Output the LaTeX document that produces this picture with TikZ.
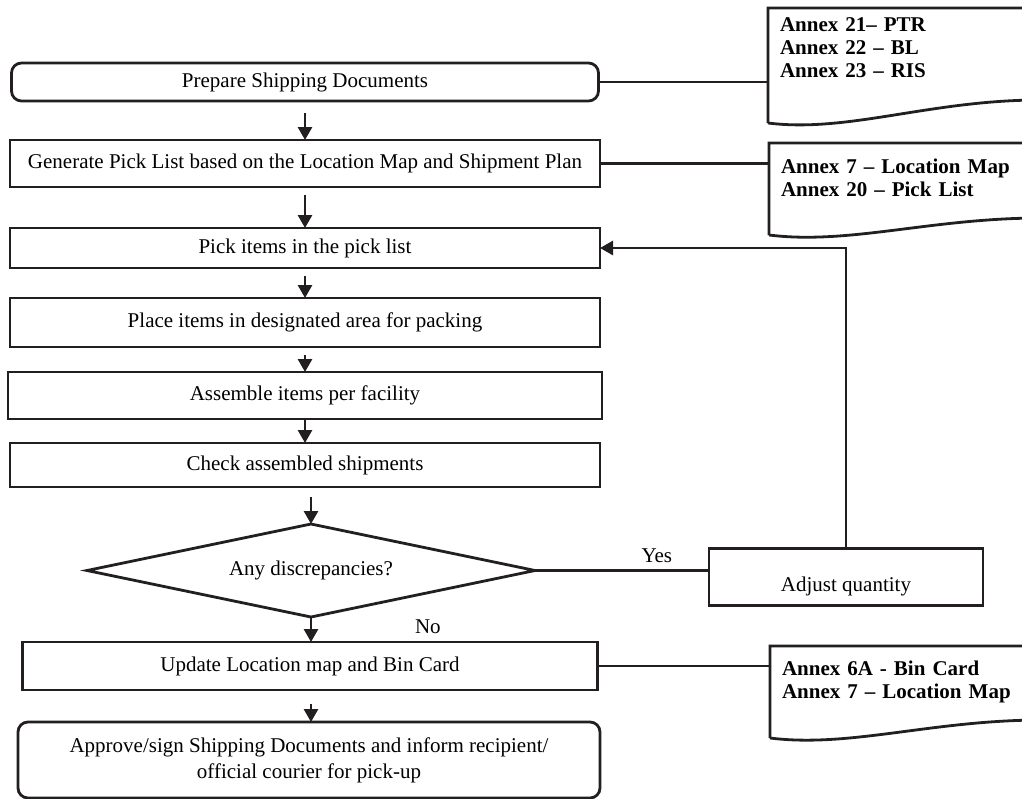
\documentclass[tikz,border=0pt]{standalone}
\usepackage{fontspec}
\setmainfont{Liberation Serif}
\usetikzlibrary{positioning,arrows.meta,shapes.geometric}
\definecolor{inkline}{HTML}{231F20}

% outline of an annex sheet: node name, drop of the right end, drop of the left corner
\newcommand{\sheetoutline}[3]{%
  \draw[sheetline] ([yshift=-#3]#1.south west) -- (#1.north west) -- (#1.north east) -- ([yshift=-#2]#1.south east)
    .. controls +(-110,0) and +(80,10) .. ([yshift=-#3]#1.south west);
}

\begin{document}
\begin{tikzpicture}[x=0.5pt, y=-0.5pt,
  every node/.style={font=\fontsize{10.5}{13}\selectfont, text=black},
  procbox/.style={
    draw=inkline, line width=1.4pt,
    minimum width=295pt,
    align=center, inner sep=3pt, outer sep=0pt
  },
  termbox/.style={procbox, rounded corners=5pt},
  decbox/.style={
    diamond, aspect=4.7,
    draw=inkline, line width=1.4pt,
    inner sep=0pt, outer sep=0pt,
    minimum width=224pt, minimum height=46.5pt
  },
  sheetbox/.style={
    font=\fontsize{10.5}{11.5}\selectfont\bfseries,
    anchor=north west,
    text width=124pt, inner xsep=6pt, inner ysep=2pt, outer sep=0pt,
    align=left
  },
  sheetline/.style={draw=inkline, line width=1.4pt},
  link/.style={draw=inkline, line width=1.4pt},
  flowarrow/.style={
    -{Triangle[length=6.5pt,width=7pt]},
    draw=inkline, line width=1.4pt,
    shorten <=4pt
  }
]
  \useasboundingbox (0,0) rectangle (1022,798);

  % Main column
  \node[termbox, minimum width=293.5pt, minimum height=19pt] (prep) at (305,82) {Prepare Shipping Documents};
  \node[procbox, minimum height=23.5pt, below=19.5pt of prep] (gen) {Generate Pick List based on the Location Map and Shipment Plan};
  \node[procbox, minimum height=20pt, below=20.5pt of gen] (pick) {Pick items in the pick list};
  \node[procbox, minimum height=24.5pt, below=15pt of pick] (place) {Place items in designated area for packing};
  \node[procbox, minimum width=297pt, minimum height=23.5pt, below=12.5pt of place] (asm) {Assemble items per facility};
  \node[procbox, minimum height=22pt, below=12pt of asm] (chk) {Check assembled shipments};
  \node[decbox, below=18.5pt of chk, xshift=3pt] (dec) {Any discrepancies?};
  \node[procbox, minimum width=287.5pt, minimum height=24pt, below=12.5pt of dec, xshift=-0.5pt] (upd) {Update Location map and Bin Card};
  \node[termbox, minimum width=291pt, minimum height=38pt, below=16pt of upd, xshift=-0.5pt] (appr) {Approve/sign Shipping Documents and inform recipient/\\official courier for pick-up};

  % Correction step
  \node[procbox, minimum width=137pt, minimum height=28.5pt, text height=17pt] (adj) at (846,577) {Adjust quantity};

  % Annex sheets
  \node[sheetbox, minimum height=40pt] (annexa) at (768,8) {Annex 21– PTR\\Annex 22 – BL\\Annex 23 – RIS};
  \node[sheetbox, minimum height=35pt] (annexb) at (769,143) {Annex 7 – Location Map\\Annex 20 – Pick List};
  \node[sheetbox, minimum height=36pt] (annexc) at (770,646) {Annex 6A - Bin Card\\Annex 7 – Location Map};
  \sheetoutline{annexa}{6pt}{17.5pt}
  \sheetoutline{annexb}{2.5pt}{11pt}
  \sheetoutline{annexc}{1pt}{10pt}

  % Flow
  \draw[flowarrow, shorten <=6pt] (prep) -- (gen);
  \draw[flowarrow] (gen) -- (pick);
  \draw[flowarrow] (pick) -- (place);
  \draw[flowarrow] (place) -- (asm);
  \draw[flowarrow, shorten <=0pt] (asm) -- (chk);
  \draw[flowarrow, shorten <=5pt] (chk.south -| dec.north) -- (dec.north);
  \draw[flowarrow, shorten <=0pt] (dec.south) -- node[pos=0.4, right=48pt] {No} (dec.south |- upd.north);
  \draw[flowarrow, shorten <=7pt] (upd.south -| dec.south) -- (dec.south |- appr.north);

  % Decision branch and loop back
  \draw[link] (dec.east) -- node[above, pos=0.7] {Yes} (dec.east -| adj.west);
  \draw[flowarrow, shorten <=0pt] (adj.north) |- (pick.east);

  % Links to the annexes
  \draw[link] (prep.east) -- (prep.east -| annexa.west);
  \draw[link] (gen.east) -- (gen.east -| annexb.west);
  \draw[link] (upd.east) -- (upd.east -| annexc.west);
\end{tikzpicture}
\end{document}
